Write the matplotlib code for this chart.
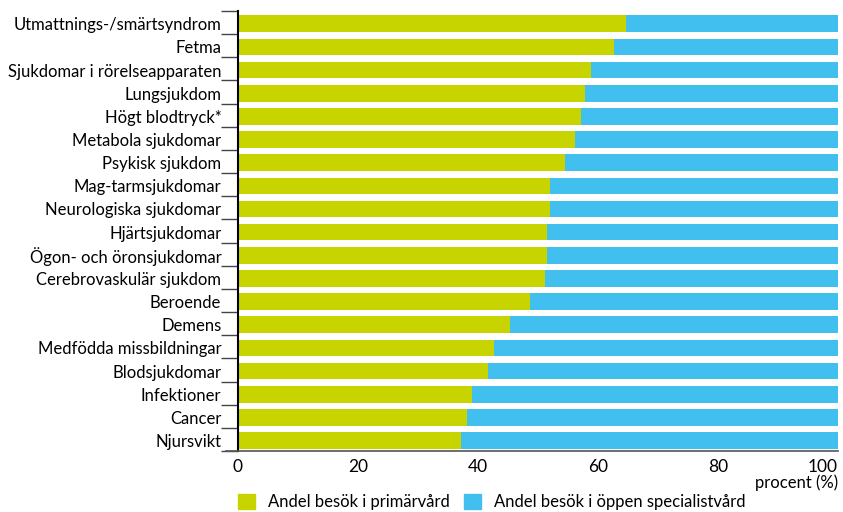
import matplotlib.pyplot as plt
import numpy as np
from matplotlib.patches import Patch

plt.rcParams['font.family'] = ['Lato', 'DejaVu Sans']

diagnoser = [
    "Utmattnings-/smärtsyndrom", "Fetma", "Sjukdomar i rörelseapparaten",
    "Lungsjukdom", "Högt blodtryck*", "Metabola sjukdomar", "Psykisk sjukdom",
    "Mag-tarmsjukdomar", "Neurologiska sjukdomar", "Hjärtsjukdomar",
    "Ögon- och öronsjukdomar", "Cerebrovaskulär sjukdom", "Beroende", "Demens",
    "Medfödda missbildningar", "Blodsjukdomar", "Infektioner", "Cancer",
    "Njursvikt",
]
primarvard = [64.7, 62.7, 58.8, 57.8, 57.2, 56.2, 54.5, 52.0, 52.0, 51.5,
              51.5, 51.2, 48.7, 45.3, 42.7, 41.7, 39.0, 38.2, 37.2]
specialistvard = [100 - v for v in primarvard]

gron = '#c8d400'
bla = '#41bfee'

fig = plt.figure(figsize=(8.43, 5.12), dpi=100)
ax = fig.add_axes([238 / 843, 1 - 451 / 512, 600 / 843, 440 / 512])

y = np.arange(len(diagnoser))
ax.barh(y, primarvard, height=0.72, color=gron)
ax.barh(y, specialistvard, left=primarvard, height=0.72, color=bla)

ax.set_xlim(0, 100)
ax.set_ylim(18.45, -0.55)

# labels sit on the bars, tick marks sit between them
ax.set_yticks(y)
ax.set_yticklabels(diagnoser, fontsize=12)
ax.tick_params(axis='y', which='major', length=0, pad=12)
ax.set_yticks(np.arange(-0.55, 18.5, 1), minor=True)
ax.tick_params(axis='y', which='minor', length=12, width=1, color='#444444')

ax.set_xticks([0, 20, 40, 60, 80, 100])
ax.set_xticklabels(['0', '20', '40', '60', '80', '100'], fontsize=12.5)
ax.tick_params(axis='x', length=0, pad=6)
ax.get_xticklabels()[-1].set_horizontalalignment('right')

for s in ['top', 'right']:
    ax.spines[s].set_visible(False)
ax.spines['left'].set_linewidth(1.5)
ax.spines['left'].set_color('black')
ax.spines['bottom'].set_color('#555555')
ax.spines['bottom'].set_linewidth(1.2)
ax.spines['bottom'].set_bounds(-2, 100)

fig.text(838 / 843, 1 - 483 / 512, 'procent (%)', ha='right', va='center', fontsize=12)

handles = [Patch(color=gron), Patch(color=bla)]
fig.legend(handles, ['Andel besök i primärvård', 'Andel besök i öppen specialistvård'],
           loc='center left', bbox_to_anchor=(238 / 843, 1 - 502 / 512), ncol=2,
           frameon=False, fontsize=12, handlelength=1.05, handleheight=1.05,
           handletextpad=0.75, columnspacing=0.85, borderpad=0, borderaxespad=0)

fig.savefig('out.png', dpi=100)
